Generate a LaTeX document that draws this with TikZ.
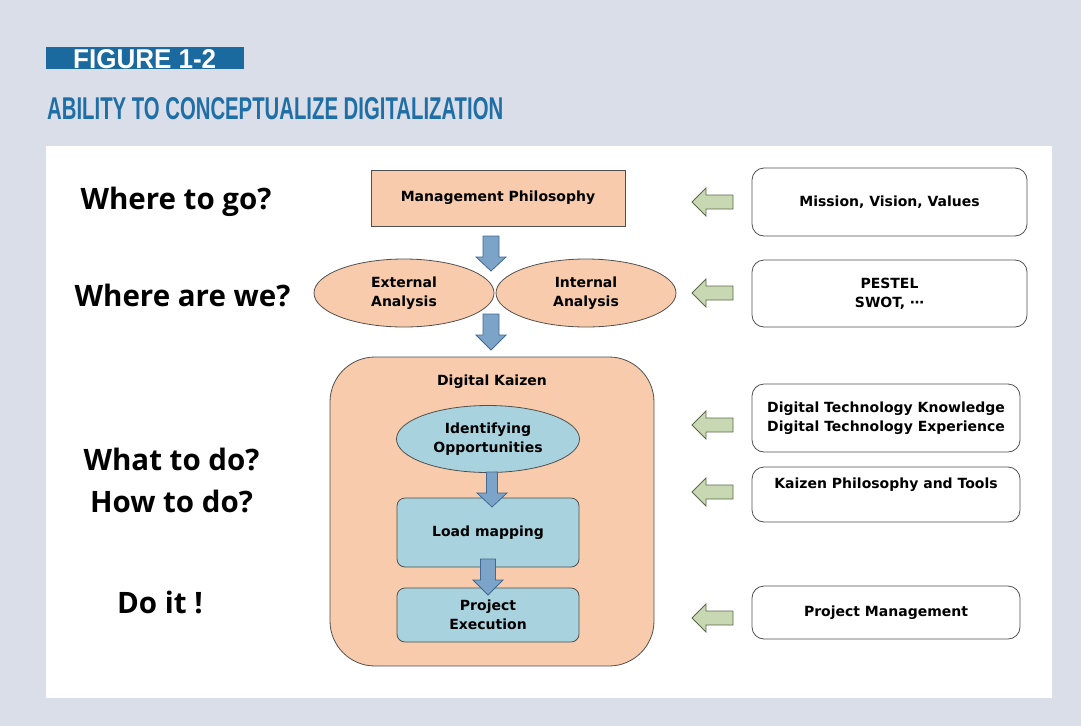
\documentclass[tikz,border=0pt]{standalone}
\usepackage{fontspec}
\setmainfont{DejaVu Sans}
\newfontfamily\qfont{Open Sans}
\newfontfamily\hfont{Liberation Sans}
\usetikzlibrary{shapes.geometric}
\definecolor{bgc}{RGB}{217,222,232}
\definecolor{barc}{RGB}{26,106,160}
\definecolor{titc}{RGB}{31,110,166}
\definecolor{peach}{RGB}{247,203,172}
\definecolor{lblue}{RGB}{168,211,222}
\definecolor{bord}{RGB}{80,80,80}
\definecolor{barrow}{RGB}{124,164,200}
\definecolor{barrowb}{RGB}{65,105,145}
\definecolor{garrow}{RGB}{200,216,178}
\definecolor{garrowb}{RGB}{90,105,75}
\tikzset{
  question/.style={font=\qfont\bfseries\fontsize{29.5}{32}\selectfont, inner sep=0pt, anchor=base},
  txt/.style={font=\bfseries\fontsize{14}{19}\selectfont, align=center},
  peachbox/.style={txt, draw=bord, fill=peach, line width=0.8pt},
  peachell/.style={txt, ellipse, draw=bord, fill=peach, line width=0.8pt, inner sep=0pt},
  blueell/.style={txt, ellipse, draw=bord, fill=lblue, line width=0.8pt, inner sep=0pt},
  bluebox/.style={txt, draw=bord, fill=lblue, line width=0.8pt, rounded corners=8pt},
  infobox/.style={txt, draw=bord, fill=white, line width=0.8pt, rounded corners=12pt},
  downarrow/.style={draw=barrowb, fill=barrow, line width=0.8pt, line join=miter},
  leftarrow/.style={draw=garrowb, fill=garrow, line width=0.8pt, line join=miter},
  lbl/.style={txt, inner sep=0pt}
}
\begin{document}
\begin{tikzpicture}[x=1pt,y=-1pt]
\fill[bgc] (0,0) rectangle (1081,726);
\useasboundingbox (0,0) rectangle (1081,726);
\fill[white] (46,146) rectangle (1052,698);
% header
\fill[barc] (46,47) rectangle (244,69);
\node[anchor=base west, inner sep=0pt, text=white] (figlbl) at (73,68) {\resizebox{143pt}{19pt}{\hfont\bfseries FIGURE 1-2}};
\node[anchor=base west, inner sep=0pt, text=titc] (title) at (47,119) {\resizebox{456pt}{22pt}{\hfont\bfseries ABILITY TO CONCEPTUALIZE DIGITALIZATION}};
% questions
\node[question] (q1) at (176,209) {Where to go?};
\node[question] (q2) at (182.5,306) {Where are we?};
\node[question] (q3) at (171.5,470) {What to do?};
\node[question] (q4) at (171.5,512) {How to do?};
\node[question] (q5) at (160,613) {Do it !};
% center column
\node[peachbox, minimum width=254pt, minimum height=56pt] (mp) at (498,198) {Management Philosophy};
\node[peachell, minimum width=180pt, minimum height=68pt] (ext) at (404,293) {External\\Analysis};
\node[peachell, minimum width=180pt, minimum height=68pt] (int) at (586,293) {Internal\\Analysis};
\node[draw=bord, fill=peach, line width=0.8pt, rounded corners=45pt, minimum width=324pt, minimum height=309pt] (dk) at (492,511.5) {};
\node[lbl] (dkt) at (492,382) {Digital Kaizen};
\node[blueell, minimum width=183pt, minimum height=67pt] (io) at (488,439) {Identifying\\Opportunities};
\node[bluebox, minimum width=182pt, minimum height=69pt] (lm) at (488,532.5) {Load mapping};
\node[bluebox, minimum width=182pt, minimum height=54pt] (pe) at (488,615) {Project\\Execution};
% blue down arrows
\draw[downarrow] (483,236) -- (499,236) -- (499,257) -- (506,257) -- (491,271) -- (476,257) -- (483,257) -- cycle;
\draw[downarrow] (483,314) -- (499,314) -- (499,335) -- (506,335) -- (491,350) -- (476,335) -- (483,335) -- cycle;
\draw[downarrow] (486.5,472) -- (497.5,472) -- (497.5,493) -- (507,493) -- (492,507) -- (477,493) -- (486.5,493) -- cycle;
\draw[downarrow] (480.5,559) -- (495.5,559) -- (495.5,580) -- (503,580) -- (488,595) -- (473,580) -- (480.5,580) -- cycle;
% right boxes
\node[infobox, minimum width=275pt, minimum height=68pt] (b1) at (889.5,202) {Mission, Vision, Values};
\node[infobox, minimum width=275pt, minimum height=67pt] (b2) at (889.5,293.5) {PESTEL\\SWOT, ⋯};
\node[infobox, minimum width=268pt, minimum height=68pt] (b3) at (886,418) {Digital Technology Knowledge\\Digital Technology Experience};
\node[infobox, minimum width=268pt, minimum height=55pt] (b4) at (886,494.5) {};
\node[lbl] (b4t) at (886,485) {Kaizen Philosophy and Tools};
\node[infobox, minimum width=268pt, minimum height=53pt] (b5) at (886,612.5) {Project Management};
% green left arrows
\foreach \yy in {202,293,425,492,618}{
  \draw[leftarrow] (733,\yy-7) -- (733,\yy+7) -- (706,\yy+7) -- (706,\yy+14) -- (692,\yy) -- (706,\yy-14) -- (706,\yy-7) -- cycle;
}
\end{tikzpicture}
\end{document}
